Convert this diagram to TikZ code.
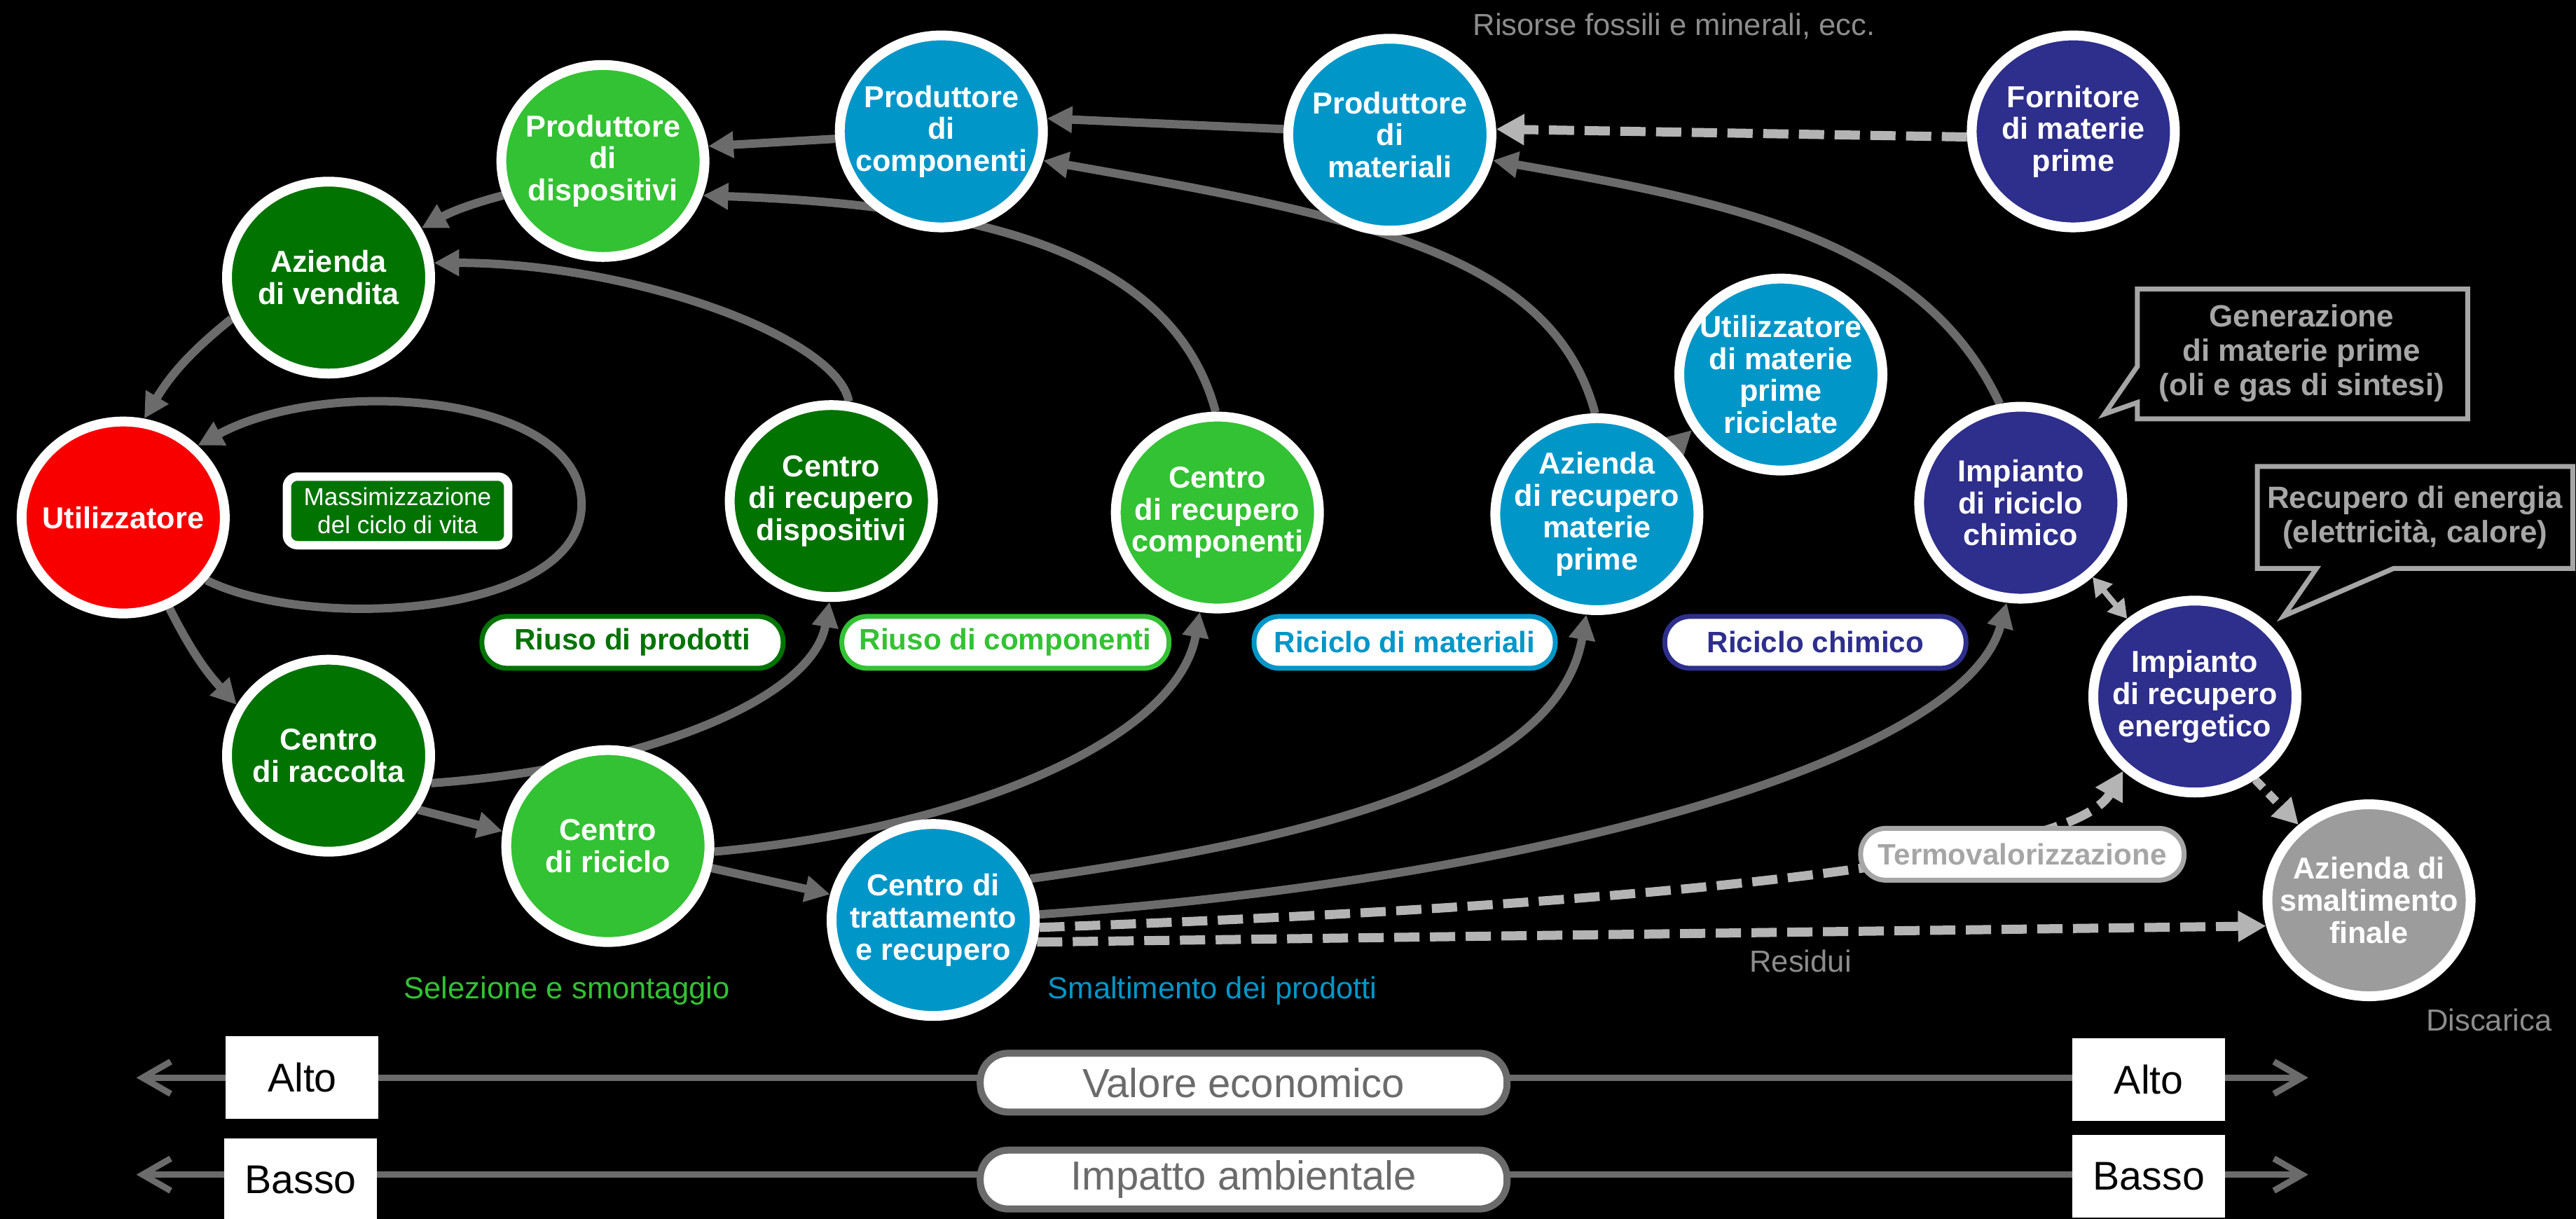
\documentclass[tikz,border=0pt]{standalone}
\usepackage{fontspec}
\setmainfont{Liberation Sans}
\usetikzlibrary{arrows.meta,shapes.geometric}

\definecolor{usered}{HTML}{F80000}
\definecolor{darkgreen}{HTML}{007300}
\definecolor{litegreen}{HTML}{33C233}
\definecolor{cyanblue}{HTML}{0096C8}
\definecolor{indigo}{HTML}{2E2E8C}
\definecolor{ashgray}{HTML}{9C9C9C}
\definecolor{linkgray}{HTML}{6B6B6B}
\definecolor{dashgray}{HTML}{B4B4B4}
\definecolor{notegray}{HTML}{A6A6A6}
\definecolor{textgray}{HTML}{8C8C8C}
\colorlet{rimcol}{red}

\pgfdeclareradialshading[rimcol]{rim}{\pgfpointorigin}{color(0bp)=(rimcol); color(36bp)=(rimcol); color(50bp)=(rimcol!55!black); color(100bp)=(rimcol!55!black)}

\pgfdeclarelayer{bg}
\pgfsetlayers{bg,main}

\tikzset{
  stage/.style 2 args={ellipse, draw=white, line width=1.4mm, minimum width=2.9cm, minimum height=2.74cm, inner sep=0pt, /utils/exec={\colorlet{rimcol}{#1}}, shade, shading=rim, label={[stagetext]center:#2}},
  stagetext/.style={text=white, font=\bfseries\fontsize{12.3}{13}\selectfont, align=center},
  tag/.style={draw=#1, text=#1, fill=white, line width=0.7mm, rounded corners=3.6mm, minimum height=0.74cm, minimum width=4.3cm, inner xsep=2.5mm, font=\bfseries\fontsize{12}{14}\selectfont},
  lifebox/.style={draw=white, fill=darkgreen, line width=1.2mm, rounded corners=1.5mm, minimum width=3.16cm, minimum height=0.98cm, text=white, align=center, font=\fontsize{10}{11.4}\selectfont},
  note/.style={draw=notegray, fill=black, line width=0.7mm},
  notetext/.style={text=notegray, align=center, font=\bfseries\fontsize{12.5}{14}\selectfont},
  caption/.style={font=\fontsize{12.4}{14}\selectfont},
  link/.style={draw=linkgray, line width=1.2mm, -{Triangle[length=3.6mm,width=3.6mm]}},
  waste/.style={draw=dashgray, line width=1.3mm, dash pattern=on 3.6mm off 1.5mm, -{Triangle[length=4mm,width=4.2mm]}},
  spent/.style={draw=dashgray, line width=1.2mm, dash pattern=on 1.6mm off 1.1mm, -{Triangle[length=3.6mm,width=3.8mm]}},
  pair/.style={draw=dashgray, line width=0.8mm, {Triangle[length=2.6mm,width=3mm]}-{Triangle[length=2.6mm,width=3mm]}},
  axis/.style={draw=linkgray, line width=0.9mm, {Straight Barb[length=4mm,width=4.6mm]}-{Straight Barb[length=4mm,width=4.6mm]}},
  level/.style={fill=white, minimum width=2.18cm, minimum height=1.18cm, text=black, font=\fontsize{16.3}{18}\selectfont},
  scalepill/.style={draw=linkgray, fill=white, line width=1mm, rounded corners=4mm, minimum width=7.52cm, minimum height=0.84cm, text=linkgray, font=\fontsize{16.5}{18}\selectfont}
}

\begin{document}
\begin{tikzpicture}[x=0.02345cm,y=0.02345cm]
\useasboundingbox (0,0) rectangle (1568,742);
\begin{pgfonlayer}{bg}
\fill[black] (0,0) rectangle (1568,742);
\end{pgfonlayer}

\node[stage={usered}{Utilizzatore}] (user) at (75,427) {};
\node[stage={darkgreen}{Azienda\\di vendita}] (seller) at (200,573) {};
\node[stage={litegreen}{Produttore\\di\\dispositivi}] (devmaker) at (367,644) {};
\node[stage={cyanblue}{Produttore\\di\\componenti}] (compmaker) at (573,662) {};
\node[stage={cyanblue}{Produttore\\di\\materiali}] (matmaker) at (846,660) {};
\node[stage={indigo}{Fornitore\\di materie\\prime}] (supplier) at (1262,662) {};
\node[stage={cyanblue}{Utilizzatore\\di materie\\prime\\riciclate}] (recuser) at (1084,514) {};
\node[stage={darkgreen}{Centro\\di recupero\\dispositivi}] (devrec) at (506,437) {};
\node[stage={litegreen}{Centro\\di recupero\\componenti}] (comprec) at (741,430) {};
\node[stage={cyanblue}{Azienda\\di recupero\\materie\\prime}] (matrec) at (972,429) {};
\node[stage={indigo}{Impianto\\di riciclo\\chimico}] (chemplant) at (1230,436) {};
\node[stage={indigo}{Impianto\\di recupero\\energetico}] (energyplant) at (1336,318) {};
\node[stage={ashgray}{Azienda di\\smaltimento\\finale}] (landfill) at (1442,194) {};
\node[stage={darkgreen}{Centro\\di raccolta}] (collect) at (200,282) {};
\node[stage={litegreen}{Centro\\di riciclo}] (recycle) at (370,227) {};
\node[stage={cyanblue}{Centro di\\trattamento\\e recupero}] (treat) at (568,182) {};

\node[lifebox] (lifecycle) at (242,431) {Massimizzazione\\del ciclo di vita};
\node[tag=darkgreen] (reuseprod) at (385,351) {Riuso di prodotti};
\node[tag=litegreen] (reusecomp) at (612,351) {Riuso di componenti};
\node[tag=cyanblue] (recmat) at (855,351) {Riciclo di materiali};
\node[tag=indigo] (recchem) at (1105,351) {Riciclo chimico};
\node[tag=notegray] (thermal) at (1231,222) {Termovalorizzazione};

\draw[note] (1301,566) -- (1502,566) -- (1502,487) -- (1301,487) -- (1301,497) -- (1281,490) -- (1301,519) -- cycle;
\node[notetext] (gennote) at (1401,527) {Generazione\\di materie prime\\(oli e gas di sintesi)};
\draw[note] (1374,458) -- (1566,458) -- (1566,396) -- (1457,396) -- (1390,367) -- (1410,396) -- (1374,396) -- cycle;
\node[notetext] (energynote) at (1470,427) {Recupero di energia\\(elettricità, calore)};

\node[caption, text=textgray] (fossil) at (1019,726) {Risorse fossili e minerali, ecc.};
\node[caption, text=litegreen] (sorting) at (345,139) {Selezione e smontaggio};
\node[caption, text=cyanblue] (disposal) at (738,139) {Smaltimento dei prodotti};
\node[caption, text=textgray] (residue) at (1096,157) {Residui};
\node[caption, text=textgray] (dump) at (1515,121) {Discarica};

\coordinate (ecoL) at (83,86);
\coordinate (ecoR) at (1405,86);
\coordinate (envL) at (83,27);
\coordinate (envR) at (1405,27);
\node[level] (ecoleft) at (184,86) {Alto};
\node[level] (ecoright) at (1308,85) {Alto};
\node[level] (envleft) at (183,24) {Basso};
\node[level] (envright) at (1308,26) {Basso};
\node[scalepill] (ecopill) at (757,83) {Valore economico};
\node[scalepill] (envpill) at (757,24) {Impatto ambientale};

\begin{pgfonlayer}{bg}
\draw[link] (compmaker.184) -- (devmaker.8);
\draw[link] (matmaker.177) -- (compmaker.7);
\draw[waste] (supplier.183) -- (matmaker.3);
\draw[link] (devmaker.199) to[bend right=7] (seller.28);
\draw[link] (seller.203) to[bend right=10] (user.78);
\draw[link] (user.-63) to[bend right=8] (collect.151);
\draw[link] (collect.-31) -- (recycle.172);
\draw[link] (recycle.-12) -- (treat.166);
\draw[link] (user.-37) .. controls (190,357) and (354,367) .. (354,435) .. controls (354,502) and (200,514) .. (user.44);
\draw[link] (devrec.80) .. controls +(100:40) and +(0:120) .. (seller.8);
\draw[link] (collect.-15) .. controls +(4:130) and +(260:60) .. (devrec.-91);
\draw[link] (comprec.91) .. controls +(105:100) and +(-2:170) .. (devmaker.-19);
\draw[link] (recycle.-3) .. controls +(5:150) and +(260:80) .. (comprec.-100);
\draw[link] (matrec.91) .. controls +(105:100) and +(-10:200) .. (compmaker.-16);
\draw[link] (matrec.41) -- (recuser.212);
\draw[link] (treat.23) .. controls +(8:180) and +(260:100) .. (matrec.-96);
\draw[link] (treat.3) .. controls +(4:300) and +(255:100) .. (chemplant.-98);
\draw[link] (chemplant.102) .. controls +(115:110) and +(-10:150) .. (matmaker.-14);
\draw[pair] (chemplant.-46) -- (energyplant.131);
\draw[spent] (energyplant.-54) -- (landfill.133);
\draw[waste] (treat.-4) .. controls +(2:300) and +(240:70) .. (energyplant.-134);
\draw[waste] (treat.-12) -- (landfill.194);
\draw[axis] (ecoL) -- (ecoR);
\draw[axis] (envL) -- (envR);
\end{pgfonlayer}
\end{tikzpicture}
\end{document}
